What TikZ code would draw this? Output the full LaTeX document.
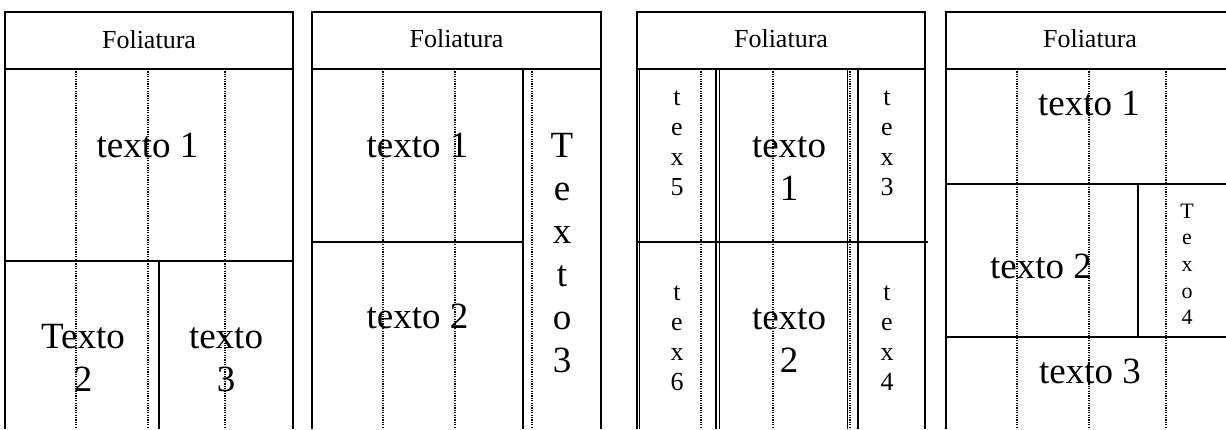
\documentclass[tikz,border=0pt]{standalone}
\usepackage{fontspec}
\setmainfont{Liberation Serif}
\newcommand\stk[1]{\begin{tabular}[t]{@{}c@{}}#1\end{tabular}}
\begin{document}
\begin{tikzpicture}[x=1pt,y=-1pt,
 frame/.style={line width=1.8pt},
 guide/.style={line width=1.3pt, dash pattern=on 1.2pt off 1.2pt},
 head/.style={font=\fontsize{26}{30}\selectfont, anchor=base, inner sep=0pt},
 big/.style={font=\fontsize{37}{43}\selectfont, anchor=base, inner sep=0pt},
 mid/.style={font=\fontsize{26}{30}\selectfont, anchor=base, inner sep=0pt},
 sml/.style={font=\fontsize{22}{26.7}\selectfont, anchor=base, inner sep=0pt}]
\useasboundingbox (0,0) rectangle (1226,429);
% ---------- panel 1
\foreach \x in {76,148,225} \draw[guide] (\x,69) -- (\x,429);
\draw[frame] (5,429) -- (5,12) -- (293,12) -- (293,429);
\draw[frame] (5,69) -- (293,69);
\draw[frame] (5,261) -- (293,261);
\draw[frame] (159,261) -- (159,429);
\node[head] (f1) at (149,48) {Foliatura};
\node[big] (p1a) at (147.5,157) {texto 1};
\node[big] (p1b) at (83,348) {\stk{Texto\\2}};
\node[big] (p1c) at (226,348) {\stk{texto\\3}};
% ---------- panel 2
\foreach \x in {383,455,532} \draw[guide] (\x,69) -- (\x,429);
\draw[frame] (312,429) -- (312,12) -- (601,12) -- (601,429);
\draw[frame] (312,69) -- (601,69);
\draw[frame] (523,69) -- (523,429);
\draw[frame] (312,242) -- (523,242);
\node[head] (f2) at (456.5,47) {Foliatura};
\node[big] (p2a) at (417.5,157) {texto 1};
\node[big] (p2b) at (417.5,328) {texto 2};
\node[big] (p2c) at (562,157) {\stk{T\\e\\x\\t\\o\\3}};
% ---------- panel 3
\foreach \x in {701,773,850} \draw[guide] (\x,69) -- (\x,429);
\draw[frame] (637,429) -- (637,12) -- (925,12) -- (925,429);
\draw[frame] (639.5,69) -- (639.5,429);
\draw[frame] (637,69) -- (925,69);
\draw[frame] (716,69) -- (716,429);
\draw[frame] (719.5,69) -- (719.5,429);
\draw[frame] (847.5,69) -- (847.5,429);
\draw[frame] (858,69) -- (858,429);
\draw[frame] (637,242) -- (928,242);
\node[head] (f3) at (781,47) {Foliatura};
\node[mid] (p3e) at (677,105) {\stk{t\\e\\x\\5}};
\node[big] (p3a) at (789,157) {\stk{texto\\1}};
\node[mid] (p3c) at (887,105) {\stk{t\\e\\x\\3}};
\node[mid] (p3f) at (677,300) {\stk{t\\e\\x\\6}};
\node[big] (p3b) at (789,329) {\stk{texto\\2}};
\node[mid] (p3d) at (887,300) {\stk{t\\e\\x\\4}};
% ---------- panel 4
\foreach \x in {1017,1089,1166} \draw[guide] (\x,69) -- (\x,429);
\draw[frame] (946,429) -- (946,12) -- (1234,12) -- (1234,429);
\draw[frame] (946,69) -- (1234,69);
\draw[frame] (946,184) -- (1234,184);
\draw[frame] (1138,184) -- (1138,337);
\draw[frame] (946,337) -- (1234,337);
\node[head] (f4) at (1090,47) {Foliatura};
\node[big] (p4a) at (1089,115) {texto 1};
\node[big] (p4b) at (1041,278) {texto 2};
\node[big] (p4c) at (1090,383) {texto 3};
\node[sml] (p4d) at (1187,218) {\stk{T\\e\\x\\o\\4}};
\end{tikzpicture}
\end{document}
